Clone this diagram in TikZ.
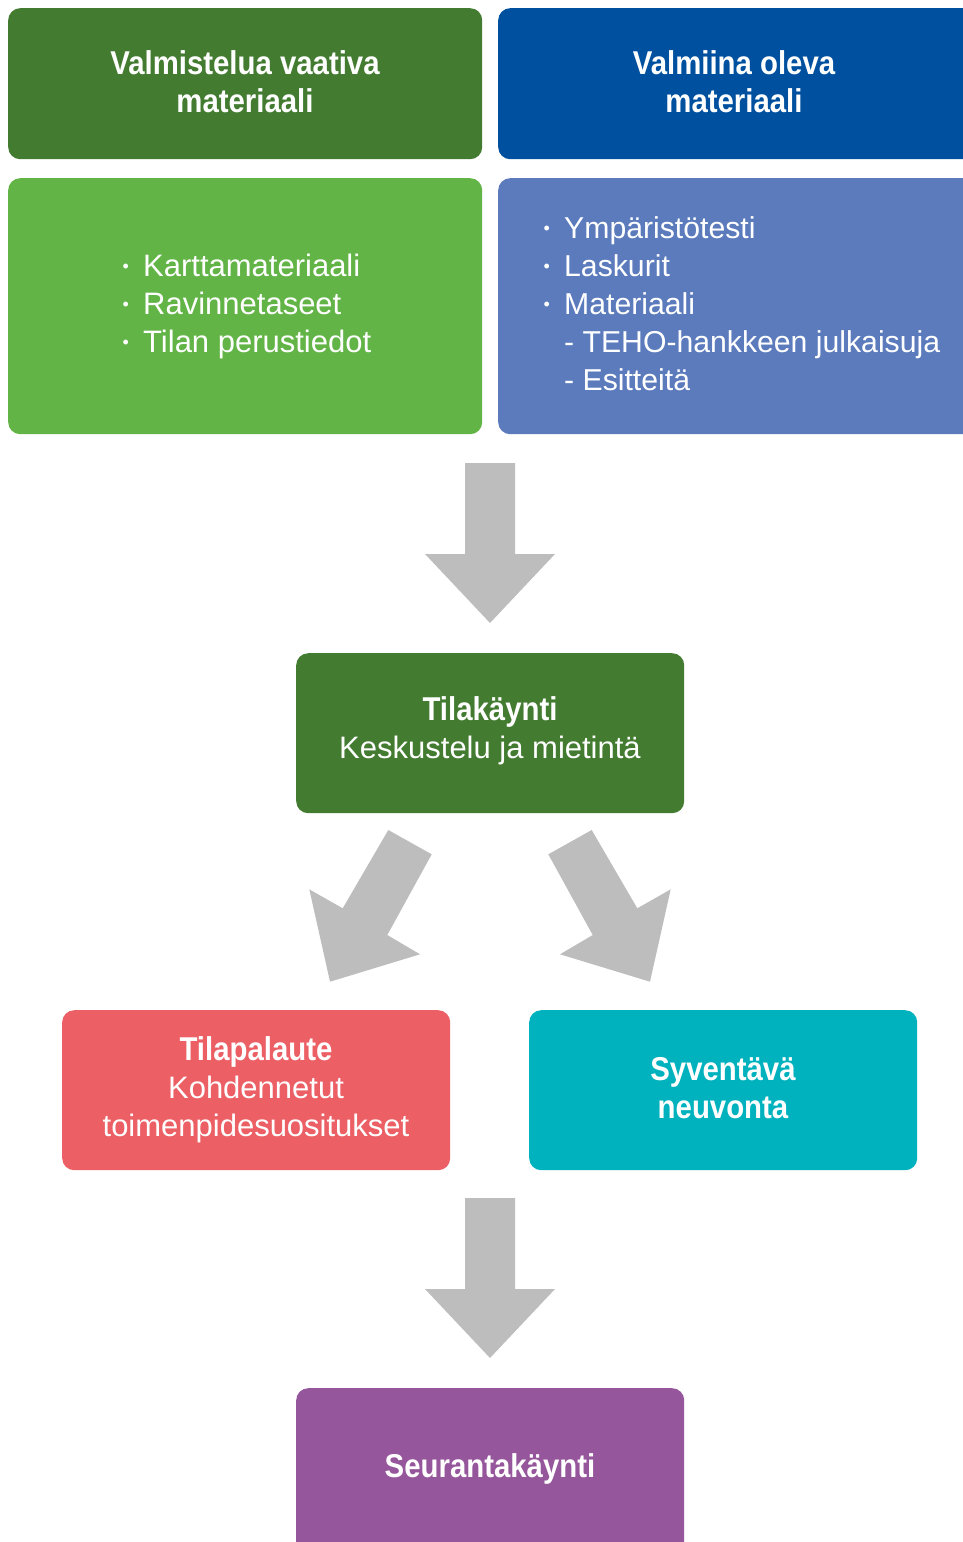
\documentclass[tikz,border=0pt]{standalone}
\usepackage{fontspec}
\setmainfont{Liberation Sans}
\newfontfamily\condbf[FakeStretch=0.89]{Liberation Sans}
\definecolor{dkgreen}{HTML}{437C30}
\definecolor{dkblue}{HTML}{0050A0}
\definecolor{ltgreen}{HTML}{62B446}
\definecolor{ltblue}{HTML}{5B7BBD}
\definecolor{redbox}{HTML}{EB5F65}
\definecolor{tealbox}{HTML}{00B2BE}
\definecolor{purplebox}{HTML}{95569B}
\definecolor{arrowgray}{HTML}{BDBDBD}
\newcommand\bul{\makebox[20.5pt][l]{\raisebox{3.5pt}{\fontsize{18}{18}\selectfont •}}}
\tikzset{
  box/.style={rectangle, rounded corners=12pt, inner sep=0pt, anchor=north west, draw=none},
  hd/.style={text=white, inner sep=0pt, anchor=base, font=\condbf\bfseries\fontsize{33}{38}\selectfont},
  tx/.style={text=white, inner sep=0pt, anchor=base, font=\fontsize{31}{38}\selectfont},
  li/.style={text=white, inner sep=0pt, anchor=base west, font=\fontsize{31}{38}\selectfont},
  blockarrow/.style={fill=arrowgray, draw=none}
}
\begin{document}
\begin{tikzpicture}[x=1pt, y=-1pt]
\useasboundingbox (0,0) rectangle (963,1542);
\clip (0,0) rectangle (963,1542);

% top boxes
\node[box, fill=dkgreen, minimum width=474, minimum height=151] (vv) at (8,8) {};
\node[box, fill=dkblue, minimum width=480, minimum height=151] (vo) at (498,8) {};
\node[box, fill=ltgreen, minimum width=474, minimum height=256] (lg) at (8,178) {};
\node[box, fill=ltblue, minimum width=480, minimum height=256] (lb) at (498,178) {};

\node[hd] (vv1) at (245,74) {Valmistelua vaativa};
\node[hd] (vv2) at (245,112) {materiaali};
\node[hd] (vo1) at (734,74) {Valmiina oleva};
\node[hd] (vo2) at (734,112) {materiaali};

\node[li] (g1) at (122.5,276) {\bul Karttamateriaali};
\node[li] (g2) at (122.5,314) {\bul Ravinnetaseet};
\node[li] (g3) at (122.5,352) {\bul Tilan perustiedot};

\node[li, font=\fontsize{30.2}{38}\selectfont] (b1) at (543.5,238) {\bul Ympäristötesti};
\node[li, font=\fontsize{30.2}{38}\selectfont] (b2) at (543.5,276) {\bul Laskurit};
\node[li, font=\fontsize{30.2}{38}\selectfont] (b3) at (543.5,314) {\bul Materiaali};
\node[li, font=\fontsize{30.2}{38}\selectfont] (b4) at (543.5,352) {\hspace{20.5pt}- TEHO-hankkeen julkaisuja};
\node[li, font=\fontsize{30.2}{38}\selectfont] (b5) at (543.5,390) {\hspace{20.5pt}- Esitteitä};

% middle
\node[box, fill=dkgreen, minimum width=388, minimum height=160] (tk) at (296,653) {};
\node[hd] (tk1) at (490,720) {Tilakäynti};
\node[tx] (tk2) at (490,758) {Keskustelu ja mietintä};

\node[box, fill=redbox, minimum width=388, minimum height=160] (tp) at (62,1010) {};
\node[hd] (tp1) at (256,1060) {Tilapalaute};
\node[tx] (tp2) at (256,1098) {Kohdennetut};
\node[tx] (tp3) at (256,1136) {toimenpidesuositukset};

\node[box, fill=tealbox, minimum width=388, minimum height=160] (sn) at (529,1010) {};
\node[hd] (sn1) at (723,1080) {Syventävä};
\node[hd] (sn2) at (723,1118) {neuvonta};

\node[box, fill=purplebox, minimum width=388, minimum height=180] (sk) at (296,1388) {};
\node[hd] (sk1) at (490,1477) {Seurantakäynti};

% block arrows
\coordinate (a1) at (490,463);
\fill[blockarrow] (a1) ++(-25,0) -- ++(50,0) -- ++(0,91) -- ++(40,0) -- (490,623) -- ++(-65,-69) -- ++(40,0) -- cycle;

\fill[blockarrow] (388.3,830) -- (431.7,854.3) -- (387.3,935) -- (420,954.3) -- (330,981.7) -- (309.3,889.3) -- (342.7,908.3) -- cycle;
\fill[blockarrow] (591.7,830) -- (548.3,854.3) -- (592.7,935) -- (560,954.3) -- (650,981.7) -- (670.7,889.3) -- (637.3,908.3) -- cycle;

\coordinate (a3) at (490,1198);
\fill[blockarrow] (a3) ++(-25,0) -- ++(50,0) -- ++(0,91) -- ++(40,0) -- (490,1358) -- ++(-65,-69) -- ++(40,0) -- cycle;
\end{tikzpicture}
\end{document}
